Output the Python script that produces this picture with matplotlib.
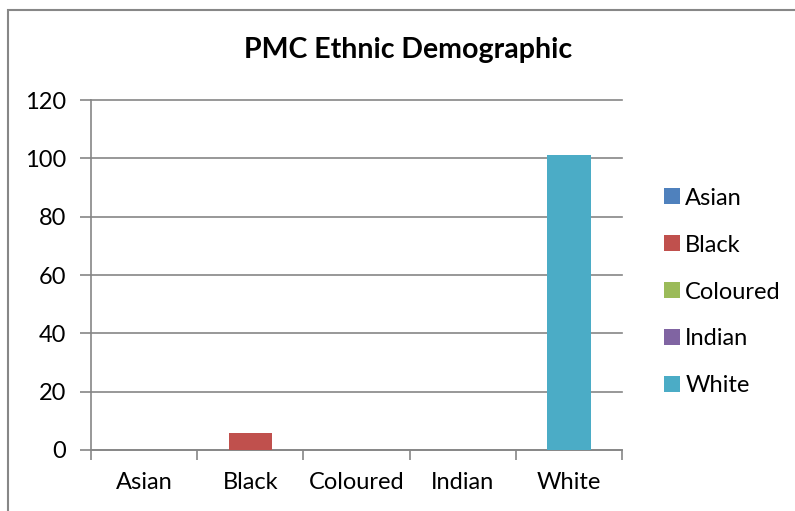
import matplotlib
matplotlib.use("Agg")
import matplotlib.pyplot as plt
from matplotlib.patches import Rectangle, Patch

categories = ["Asian", "Black", "Coloured", "Indian", "White"]
values = [0, 6, 0, 0, 101]
colors = ["#4F81BD", "#C0504D", "#9BBB59", "#8064A2", "#4BACC6"]
yticks = [0, 20, 40, 60, 80, 100, 120]
title = "PMC Ethnic Demographic"

plt.rcParams['font.family'] = ['Lato', 'DejaVu Sans']

W, H = 795, 511
fig = plt.figure(figsize=(W/100, H/100), dpi=100)
ax = fig.add_axes([91/W, 1-450/H, (622-91)/W, (450-100)/H])

x = list(range(len(categories)))
ax.bar(x, values, width=0.41, color=colors, zorder=3)
ax.set_xlim(-0.5, len(categories)-0.5)
ax.set_ylim(0, 120)
ax.set_yticks(yticks)
ax.set_yticklabels([str(v) for v in yticks], fontsize=17)
ax.yaxis.grid(True, color="#868686", linewidth=1.2, zorder=0)
for gl in ax.get_ygridlines():
    gl.set_clip_on(False)
ax.set_xticks(x)
ax.set_xticklabels(categories, fontsize=17)
ax.set_xticks([i + 0.5 for i in range(-1, len(categories))], minor=True)
ax.tick_params(axis='x', which='major', length=0, pad=16)
ax.tick_params(axis='x', which='minor', length=7, color="#868686", width=1.2)
ax.tick_params(axis='y', length=8, color="#868686", width=1.2, pad=10)
for s in ['right', 'top']:
    ax.spines[s].set_visible(False)
for s in ['bottom', 'left']:
    ax.spines[s].set_color("#868686")
    ax.spines[s].set_linewidth(1.2)

fig.text(408/W, 1-58/H, title, ha='center', va='baseline', fontsize=20.5, fontweight='bold')

handles = [Patch(facecolor=c, edgecolor='none') for c in colors]
leg = fig.legend(handles, categories, loc='center left', bbox_to_anchor=(664/W, 1-292/H),
                 frameon=False, fontsize=17, handlelength=0.68, handleheight=0.65,
                 handletextpad=0.22, labelspacing=1.1, borderaxespad=0, borderpad=0)

fig.patches.append(Rectangle((8/W, -0.1), 1.2, 1.1 - 10/H, transform=fig.transFigure,
                             fill=False, edgecolor="#878787", linewidth=1.5))

fig.savefig("out.png", dpi=100)
